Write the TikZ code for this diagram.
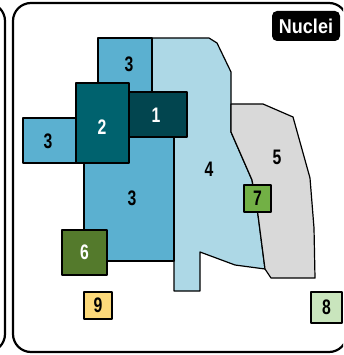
\documentclass[tikz,border=0pt]{standalone}
\usepackage{fontspec}
\setmainfont{Liberation Sans}
\newfontfamily\numfont[FakeStretch=0.75]{Liberation Sans Bold}
\newfontfamily\titfont[FakeStretch=0.9]{Liberation Sans Bold}
\definecolor{cthree}{HTML}{5BB0D0}
\definecolor{cfour}{HTML}{ADD8E6}
\definecolor{ctwo}{HTML}{00626E}
\definecolor{cone}{HTML}{02454F}
\definecolor{cfive}{HTML}{D9D9D9}
\definecolor{csix}{HTML}{547A2C}
\definecolor{cseven}{HTML}{72B045}
\definecolor{ceight}{HTML}{C9E5BD}
\definecolor{cnine}{HTML}{FCD97A}
\tikzset{
  frame/.style={draw=black, line width=2.2pt, rounded corners=18pt},
  region/.style={draw=black, line width=1.2pt, line join=round},
  lbl/.style={font=\numfont\fontsize{21}{21}\selectfont, inner sep=0pt, text=black},
  wlbl/.style={lbl, text=white},
}
\begin{document}
\begin{tikzpicture}[x=1pt,y=-1pt]
\useasboundingbox (0,0) rectangle (343,355);
\begin{scope}
\clip (0,0) rectangle (343,355);
\draw[frame] (-60,3) rectangle (5,352);
\draw[frame] (13,3) rectangle (347,352);
\end{scope}
% Nuclei tag
\node[fill=black, rounded corners=5pt, minimum width=68pt, minimum height=30pt, inner sep=0pt,
      text=white, font=\titfont\fontsize{20}{20}\selectfont] (nuclei) at (306,26) {Nuclei};
% region 4
\fill[cfour] (152,38) -- (209,38) -- (217,43) -- (231,72) -- (231,132) -- (252,180) -- (258,215)
  -- (265,269) -- (235,265) -- (200,252) -- (200,291) -- (174,291) -- (174,120) -- (152,120) -- cycle;
\draw[region] (152,120) -- (152,38) -- (209,38) -- (217,43) -- (231,72) -- (231,132) -- (252,180) -- (258,215)
  -- (265,269) -- (235,265) -- (200,252) -- (200,291) -- (174,291) -- (174,120);
% region 5
\draw[region, fill=cfive] (231,104) -- (263,104) -- (293,117) -- (310,178) -- (314,228) -- (315,278)
  -- (271,278) -- (265,269) -- (258,215) -- (252,180) -- (231,132) -- cycle;
% region 3
\draw[region, fill=cthree] (98,38) -- (152,38) -- (152,110) -- (174,110) -- (174,261) -- (84,261)
  -- (84,160) -- (98,160) -- cycle;
\draw[region, fill=cthree] (23,118) rectangle (76,163);
% region 2 and 1
\draw[region, fill=ctwo] (76,83) rectangle (129,163);
\draw[region, fill=cone] (129,92) rectangle (187,137);
% small boxes
\draw[region, fill=csix] (62,230) rectangle (107,275);
\draw[region, fill=cseven] (244,185) rectangle (271,212);
\draw[region, fill=ceight] (311,292) rectangle (342,323);
\draw[region, fill=cnine] (84,292) rectangle (112,319);
% labels
\node[lbl] (l3a) at (129,64) {3};
\node[lbl] (l3b) at (48,141) {3};
\node[lbl] (l3c) at (132,198) {3};
\node[wlbl] (l2) at (102,127) {2};
\node[wlbl] (l1) at (156,115) {1};
\node[lbl] (l4) at (209,169) {4};
\node[lbl] (l5) at (277,157) {5};
\node[lbl] (l7) at (257.5,198.5) {7};
\node[wlbl] (l6) at (84.5,252.5) {6};
\node[lbl] (l9) at (98,305.5) {9};
\node[lbl] (l8) at (326.5,307.5) {8};
\end{tikzpicture}
\end{document}
